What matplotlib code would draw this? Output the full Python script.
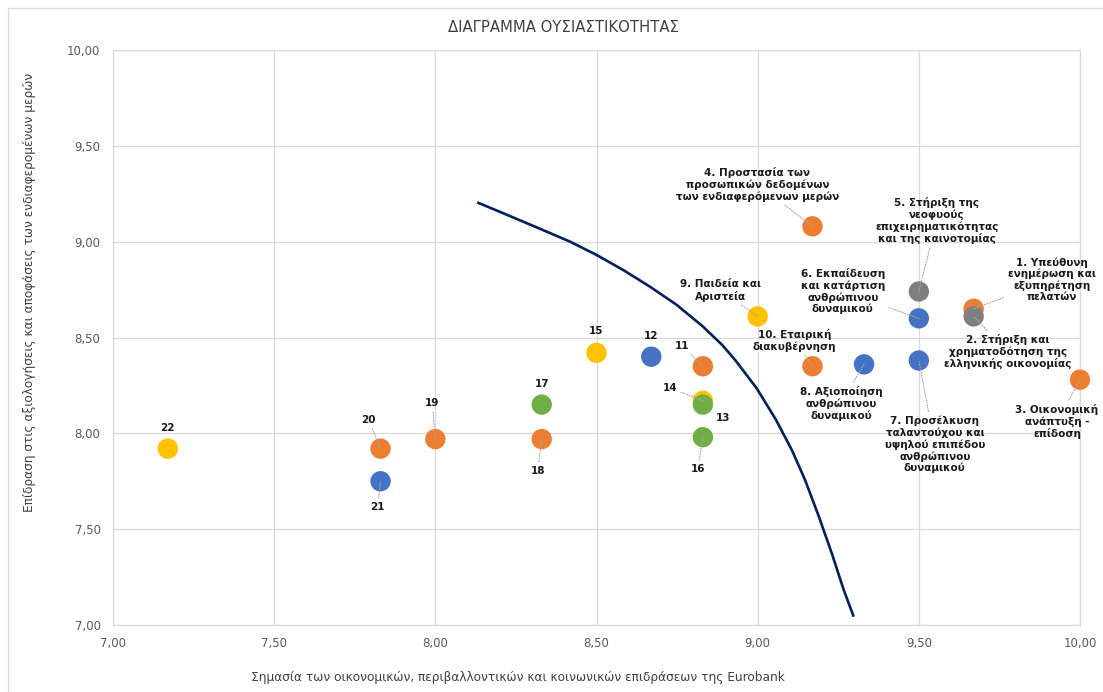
import matplotlib
matplotlib.use("Agg")
import matplotlib.pyplot as plt
from matplotlib.patches import Rectangle

# materiality topics: id, x (importance of impact), y (stakeholder influence), colour group
ids = list(range(1, 23))
xs = [9.67, 9.67, 10.00, 9.17, 9.50, 9.50, 9.50, 9.33, 9.00, 9.17, 8.83,
      8.67, 8.83, 8.83, 8.50, 8.83, 8.33, 8.33, 8.00, 7.83, 7.83, 7.17]
ys = [8.65, 8.61, 8.28, 9.08, 8.74, 8.60, 8.38, 8.36, 8.61, 8.35, 8.35,
      8.40, 8.15, 8.17, 8.42, 7.98, 8.15, 7.97, 7.97, 7.92, 7.75, 7.92]
groups = ["orange", "gray", "orange", "orange", "gray", "blue", "blue", "blue",
          "yellow", "orange", "orange", "blue", "green", "yellow", "yellow",
          "green", "green", "orange", "orange", "orange", "blue", "yellow"]
labels = [
    "1. Υπεύθυνη\nενημέρωση και\nεξυπηρέτηση\nπελατών",
    "2. Στήριξη και\nχρηματοδότηση της\nελληνικής οικονομίας",
    "3. Οικονομική\nανάπτυξη -\nεπίδοση",
    "4. Προστασία των\nπροσωπικών δεδομένων\nτων ενδιαφερόμενων μερών",
    "5. Στήριξη της\nνεοφυούς\nεπιχειρηματικότητας\nκαι της καινοτομίας",
    "6. Εκπαίδευση\nκαι κατάρτιση\nανθρώπινου\nδυναμικού",
    "7. Προσέλκυση\nταλαντούχου και\nυψηλού επιπέδου\nανθρώπινου\nδυναμικού",
    "8. Αξιοποίηση\nανθρώπινου\nδυναμικού",
    "9. Παιδεία και\nΑριστεία",
    "10. Εταιρική\nδιακυβέρνηση",
] + [str(i) for i in range(11, 23)]

# threshold curve
curve_x = [8.130, 8.211, 8.314, 8.418, 8.501, 8.583, 8.666, 8.749, 8.831, 8.890,
           8.930, 8.997, 9.057, 9.106, 9.147, 9.190, 9.230, 9.267, 9.298]
curve_y = [9.205, 9.148, 9.075, 9.000, 8.930, 8.852, 8.765, 8.670, 8.556, 8.461,
           8.383, 8.235, 8.070, 7.913, 7.757, 7.565, 7.374, 7.183, 7.043]

title = "ΔΙΑΓΡΑΜΜΑ ΟΥΣΙΑΣΤΙΚΟΤΗΤΑΣ"
xlabel = "Σημασία των οικονομικών, περιβαλλοντικών και κοινωνικών επιδράσεων της Eurobank"
ylabel = "Επίδραση στις αξιολογήσεις και αποφάσεις των ενδιαφερομένων μερών"

colors = {"orange": "#ED7D31", "yellow": "#FFC000", "blue": "#4472C4",
          "green": "#70AD47", "gray": "#7F7F7F"}
draw_order = ["orange", "yellow", "blue", "green", "gray"]

# label offsets in pixels (label centre relative to the point)
offsets = [(78, 29), (34, -35), (-23, -42), (-55, 42), (18, 71), (-76, 27),
           (16, -84), (-23, -39), (-37, 26), (-18, 26), (-21, 20), (0, 21),
           (20, -13), (-33, 13), (0, 22), (-5, -32), (0, 21), (-4, -32),
           (-3, 36), (-12, 29), (-3, -26), (0, 21)]

plt.rcParams["font.family"] = ["DejaVu Sans"]

fig = plt.figure(figsize=(11.03, 6.92), dpi=100)
fig.patches.append(Rectangle((8 / 1103, -0.1), 1.2, 1 - 8 / 692 + 0.1,
                             transform=fig.transFigure, fill=False,
                             edgecolor="#D9D9D9", linewidth=1))
ax = fig.add_axes([113 / 1103, 1 - 625 / 692, (1080 - 113) / 1103, (625 - 50) / 692])

ax.set_xlim(7, 10)
ax.set_ylim(7, 10)
ticks = [7.0, 7.5, 8.0, 8.5, 9.0, 9.5, 10.0]
ax.set_xticks(ticks)
ax.set_yticks(ticks)
ax.set_xticklabels([f"{t:.2f}".replace(".", ",") for t in ticks])
ax.set_yticklabels([f"{t:.2f}".replace(".", ",") for t in ticks])
ax.tick_params(length=0, labelsize=8.5, colors="#595959", pad=9)
ax.grid(True, color="#D9D9D9", linewidth=0.9)
ax.set_axisbelow(True)
for s in ax.spines.values():
    s.set_color("#D9D9D9")
    s.set_linewidth(0.9)

ax.plot(curve_x, curve_y, color="#002060", linewidth=1.9, zorder=2,
        solid_capstyle="butt", solid_joinstyle="round")

for g in draw_order:
    gx = [x for x, gg in zip(xs, groups) if gg == g]
    gy = [y for y, gg in zip(ys, groups) if gg == g]
    ax.scatter(gx, gy, s=215, color=colors[g], edgecolors="none", zorder=3,
               clip_on=False)

for i in range(len(ids)):
    dx, dy = offsets[i]
    far = (dx * dx + dy * dy) ** 0.5 > 25
    arrow = dict(arrowstyle="-", color="#A6A6A6", linestyle=(0, (1, 1.5)),
                 linewidth=0.8, shrinkA=1, shrinkB=0) if far else None
    ax.annotate(labels[i], xy=(xs[i], ys[i]), xytext=(dx, dy),
                textcoords="offset pixels", ha="center", va="center",
                fontsize=7.5, fontweight="bold", color="#1A1A1A",
                linespacing=1.15, arrowprops=arrow, zorder=4,
                annotation_clip=False)

fig.text(563 / 1103, 1 - 27 / 692, title, ha="center", va="center",
         fontsize=10.7, color="#404040")
fig.text(518 / 1103, 1 - 677 / 692, xlabel, ha="center", va="center",
         fontsize=8.7, color="#404040")
fig.text(30 / 1103, 1 - 292 / 692, ylabel, ha="center", va="center",
         rotation=90, fontsize=8.7, color="#404040")

fig.savefig("out.png", dpi=100)
